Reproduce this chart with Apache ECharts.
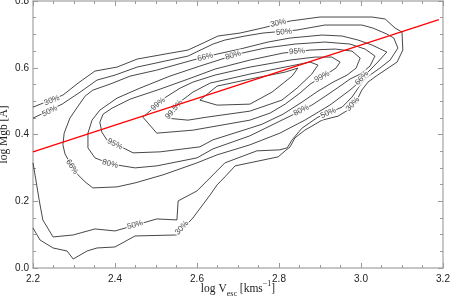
<!DOCTYPE html>
<html><head><meta charset="utf-8">
<script src="https://cdn.jsdelivr.net/npm/echarts@6/dist/echarts.min.js"></script>
<style>html,body{margin:0;padding:0;background:#fff}#c{width:450px;height:296px}</style>
</head><body><div id="c"></div>
<script>
const xTicks=[2.2,2.4,2.6,2.8,3.0,3.2];
const yTicks=[0.0,0.2,0.4,0.6,0.8];

const c30=[[2.200,0.482],[2.273,0.518],[2.310,0.554],[2.351,0.590],[2.405,0.602],[2.454,0.626],[2.522,0.641],[2.578,0.653],[2.615,0.674],[2.651,0.695],[2.705,0.704],[2.759,0.719],[2.827,0.740],[2.900,0.752],[3.027,0.752],[3.059,0.746],[3.083,0.719],[3.100,0.707],[3.102,0.653],[3.088,0.617],[3.066,0.599],[3.037,0.575],[3.017,0.557],[3.002,0.533],[2.990,0.503],[2.968,0.473],[2.944,0.455],[2.905,0.443],[2.863,0.413],[2.839,0.390],[2.827,0.363],[2.815,0.351],[2.798,0.333],[2.693,0.306],[2.668,0.273],[2.649,0.249],[2.632,0.219],[2.590,0.150],[2.551,0.099],[2.449,0.096],[2.400,0.063],[2.356,0.060],[2.332,0.051],[2.298,0.027],[2.283,0.051],[2.249,0.060],[2.217,0.084],[2.200,0.120]];
const c50=[[2.200,0.315],[2.207,0.264],[2.215,0.204],[2.224,0.144],[2.249,0.093],[2.298,0.099],[2.351,0.117],[2.400,0.111],[2.502,0.147],[2.551,0.144],[2.554,0.201],[2.600,0.231],[2.639,0.279],[2.668,0.315],[2.746,0.351],[2.802,0.354],[2.820,0.360],[2.832,0.384],[2.856,0.419],[2.895,0.452],[2.954,0.482],[2.978,0.512],[2.993,0.539],[3.007,0.563],[3.022,0.578],[3.046,0.599],[3.071,0.623],[3.090,0.659],[3.080,0.689],[3.063,0.701],[3.029,0.719],[3.002,0.728],[2.912,0.728],[2.844,0.713],[2.761,0.704],[2.717,0.695],[2.668,0.683],[2.639,0.671],[2.578,0.635],[2.522,0.620],[2.454,0.602],[2.400,0.578],[2.356,0.563],[2.315,0.527],[2.271,0.491],[2.200,0.449]];
const c66=[[2.346,0.240],[2.327,0.258],[2.310,0.279],[2.290,0.315],[2.278,0.342],[2.273,0.369],[2.276,0.404],[2.290,0.449],[2.310,0.485],[2.327,0.515],[2.346,0.533],[2.388,0.551],[2.437,0.575],[2.502,0.593],[2.590,0.623],[2.649,0.641],[2.705,0.656],[2.773,0.677],[2.827,0.689],[2.905,0.698],[2.954,0.695],[2.993,0.683],[3.027,0.668],[3.063,0.647],[3.041,0.617],[3.017,0.587],[3.002,0.572],[2.990,0.551],[2.973,0.533],[2.924,0.488],[2.863,0.443],[2.802,0.404],[2.729,0.369],[2.649,0.339],[2.600,0.315],[2.517,0.279],[2.449,0.255],[2.405,0.243],[2.346,0.240]];
const c80=[[2.334,0.384],[2.334,0.404],[2.344,0.443],[2.363,0.473],[2.405,0.509],[2.461,0.539],[2.534,0.575],[2.607,0.605],[2.668,0.629],[2.710,0.644],[2.766,0.659],[2.839,0.671],[2.912,0.677],[2.973,0.671],[3.010,0.656],[3.034,0.635],[3.022,0.605],[2.998,0.581],[2.973,0.566],[2.949,0.545],[2.917,0.518],[2.880,0.488],[2.827,0.455],[2.802,0.440],[2.729,0.396],[2.639,0.357],[2.600,0.330],[2.502,0.306],[2.449,0.300],[2.388,0.312],[2.351,0.330],[2.334,0.360],[2.334,0.384]];
const c95=[[2.363,0.437],[2.371,0.461],[2.393,0.479],[2.437,0.506],[2.510,0.536],[2.578,0.566],[2.644,0.596],[2.729,0.623],[2.810,0.644],[2.876,0.653],[2.937,0.656],[2.978,0.650],[2.998,0.629],[2.988,0.599],[2.966,0.578],[2.932,0.557],[2.895,0.530],[2.856,0.497],[2.810,0.461],[2.759,0.431],[2.729,0.419],[2.639,0.384],[2.607,0.363],[2.510,0.348],[2.444,0.345],[2.420,0.360],[2.380,0.384],[2.368,0.407],[2.363,0.437]];
const c99=[[2.468,0.452],[2.485,0.470],[2.524,0.512],[2.559,0.539],[2.590,0.557],[2.644,0.578],[2.729,0.602],[2.827,0.623],[2.888,0.632],[2.929,0.632],[2.949,0.617],[2.939,0.599],[2.924,0.587],[2.876,0.551],[2.851,0.524],[2.815,0.491],[2.778,0.464],[2.729,0.443],[2.590,0.413],[2.502,0.404],[2.468,0.452]];
const c995=[[2.527,0.449],[2.541,0.473],[2.561,0.500],[2.590,0.527],[2.632,0.554],[2.729,0.581],[2.827,0.605],[2.876,0.617],[2.895,0.608],[2.880,0.581],[2.844,0.539],[2.807,0.503],[2.729,0.470],[2.624,0.452],[2.578,0.443],[2.527,0.449]];
const cCore=[[2.607,0.503],[2.649,0.545],[2.729,0.566],[2.815,0.587],[2.846,0.599],[2.832,0.575],[2.783,0.527],[2.729,0.491],[2.649,0.488],[2.607,0.503]];
const fitLine=[[2.2,0.348],[3.19,0.744]];

const labelText=['30%','50%','30%','50%','66%','80%','95%','99%','99.5%','95%','80%','66%','50%','30%','99%','80%','50%','30%','66%'];
const labelX=[2.246,2.241,2.798,2.812,2.620,2.688,2.844,2.505,2.544,2.400,2.388,2.295,2.449,2.563,2.905,2.854,2.920,2.980,3.002];
const labelY=[0.502,0.470,0.734,0.707,0.632,0.637,0.649,0.491,0.475,0.371,0.312,0.303,0.129,0.120,0.573,0.472,0.464,0.491,0.569];
const labelAngle=[22,26,14,5,14,16,4,41,50,-27,-14,-56,16,47,28,27,23,48,47];

const chart=echarts.init(document.getElementById('c'));
const contours=[c30,c50,c66,c80,c95,c99,c995,cCore];
const series=contours.map(d=>({type:'line',data:d,symbol:'none',showSymbol:false,
  lineStyle:{color:'#333',width:0.9},z:2,silent:true}));
series.push({type:'scatter',symbolSize:1,itemStyle:{color:'rgba(0,0,0,0)'},z:3,silent:true,
  data:labelText.map((t,i)=>({value:[labelX[i],labelY[i]],label:{formatter:t,rotate:labelAngle[i]}})),
  label:{show:true,position:'inside',fontSize:8,fontFamily:'Liberation Sans',color:'#222',backgroundColor:'#fff',padding:[0,1]}});
series.push({type:'line',data:fitLine,symbol:'none',lineStyle:{color:'#ff0000',width:1.2},z:4,silent:true});

const xMin=xTicks[0],xMax=xTicks[xTicks.length-1],xInt=+(xTicks[1]-xTicks[0]).toFixed(3);
const yMin=yTicks[0],yMax=yTicks[yTicks.length-1],yInt=+(yTicks[1]-yTicks[0]).toFixed(3);
const common={
  axisLine:{show:true,onZero:false,lineStyle:{color:'#b4b4b4',width:1.5}},
  axisTick:{show:true,inside:true,length:5,lineStyle:{color:'#999',width:1}},
  minorTick:{show:true,splitNumber:4,length:3,lineStyle:{color:'#999',width:1}},
  splitLine:{show:false},minorSplitLine:{show:false}
};
const lab={fontSize:10,color:'#222',fontFamily:'Liberation Sans',formatter:v=>v.toFixed(1)};
const serif='Liberation Serif';
chart.setOption({
  animation:false,
  grid:{left:33,right:7,top:1,bottom:28,containLabel:false,outerBoundsMode:'none'},
  xAxis:[
    Object.assign({type:'value',min:xMin,max:xMax,interval:xInt,position:'bottom',
      axisLabel:Object.assign({margin:6},lab),
      name:'{a|log V}{b|esc}{a| [kms}{c|−1}{a|]}',nameLocation:'middle',nameGap:12,nameMoveOverlap:false,
      nameTextStyle:{color:'#222',rich:{
        a:{fontFamily:serif,fontSize:11.5,color:'#222',lineHeight:18,verticalAlign:'middle'},
        b:{fontFamily:serif,fontSize:8,color:'#222',lineHeight:18,verticalAlign:'bottom'},
        c:{fontFamily:serif,fontSize:8,color:'#222',lineHeight:18,verticalAlign:'top'}}}
    },common),
    Object.assign({type:'value',min:xMin,max:xMax,interval:xInt,position:'top',axisLabel:{show:false}},common)
  ],
  yAxis:[
    Object.assign({type:'value',min:yMin,max:yMax,interval:yInt,position:'left',
      axisLabel:Object.assign({margin:4},lab),
      name:'log Mgb [Å]',nameLocation:'middle',nameGap:23,nameMoveOverlap:false,
      nameTextStyle:{fontFamily:serif,fontSize:11.5,color:'#222'}
    },common),
    Object.assign({type:'value',min:yMin,max:yMax,interval:yInt,position:'right',axisLabel:{show:false}},common)
  ],
  series:series
});
</script></body></html>
